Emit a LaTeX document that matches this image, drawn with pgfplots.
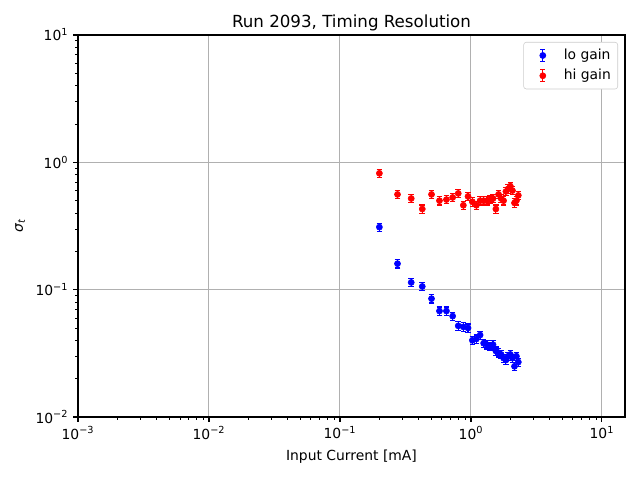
\documentclass[border=0pt]{standalone}
\usepackage{pgfplots}
\usepackage{pgfplotstable}
\pgfplotsset{compat=1.18}
\usepackage{fontspec}
\setmainfont{DejaVu Sans}
\newcommand\logtick{\pgfmathtruncatemacro\myexp{round(\tick)}\pgfmathtruncatemacro\myexpa{abs(\myexp)}10\textsuperscript{\ifnum\myexp<0 −\fi\myexpa}}
\pgfplotstableread{
x y
0.2 0.31
0.275 0.16
0.35 0.114
0.425 0.106
0.5 0.085
0.575 0.068
0.65 0.068
0.725 0.062
0.8 0.052
0.875 0.051
0.95 0.050
1.025 0.040
1.1 0.041
1.175 0.044
1.25 0.038
1.325 0.037
1.4 0.036
1.475 0.037
1.55 0.033
1.625 0.032
1.7 0.031
1.775 0.029
1.85 0.028
1.925 0.030
2.0 0.031
2.075 0.029
2.15 0.025
2.225 0.030
2.3 0.027
}\lodata
\pgfplotstableread{
x y
0.2 0.82
0.275 0.56
0.35 0.52
0.425 0.43
0.5 0.56
0.575 0.50
0.65 0.51
0.725 0.53
0.8 0.57
0.875 0.46
0.95 0.54
1.025 0.49
1.1 0.46
1.175 0.50
1.25 0.50
1.325 0.50
1.4 0.51
1.475 0.52
1.55 0.43
1.625 0.56
1.7 0.52
1.775 0.50
1.85 0.59
1.925 0.62
2.0 0.65
2.075 0.60
2.15 0.48
2.225 0.50
2.3 0.55
}\hidata
\begin{document}
\begin{tikzpicture}
\path[use as bounding box] (-56.16pt,-45.36pt) rectangle (404.64pt,300.24pt);
\begin{axis}[
  at={(0,0)}, anchor=south west,
  scale only axis, width=393.84pt, height=275.04pt,
  xmode=log, ymode=log, log basis x=10, log basis y=10,
  xmin=1e-3, xmax=15, ymin=1e-2, ymax=10,
  xticklabel={\logtick}, yticklabel={\logtick},
  tick label style={font=\fontsize{10}{12}\selectfont},
  tick pos=left, tick align=outside,
  major tick length=3.5pt, minor tick length=2pt,
  every tick/.style={black, line width=0.8pt},
  every minor tick/.style={black, line width=0.6pt},
  axis line style={line width=0.8pt},
  grid=major, major grid style={color=black!31, line width=0.7pt},
  title={Run 2093, Timing Resolution},
  title style={font=\fontsize{12}{14}\selectfont, at={(axis description cs:0.5,1)}, anchor=south, yshift=-6.3pt},
  xlabel={Input Current [mA]},
  xlabel style={font=\fontsize{10}{12}\selectfont, at={(axis description cs:0.5,-0.105)}, anchor=center},
  ylabel={\textit{σ}\textsubscript{\textit{t}}},
  ylabel style={font=\fontsize{10}{12}\selectfont, at={(axis description cs:-0.106,0.5)}, anchor=center},
  legend style={at={(axis description cs:1,1)}, anchor=north east, xshift=-5pt, yshift=-5pt,
    draw=black!20, rounded corners=2pt, font=\fontsize{10}{12}\selectfont,
    inner xsep=3pt, inner ysep=3pt, row sep=1.5pt},
  legend cell align=left,
]
\addplot[blue, only marks, mark=*, mark size=2.2pt, mark options={blue, draw=blue, fill=blue},
  legend image code/.code={\path[draw=none, fill=none] (0cm,0cm) rectangle (0.84cm,0cm); \draw[blue, line width=0.8pt] (0.38cm,-0.15cm)--(0.38cm,0.15cm) (0.32cm,-0.15cm)--(0.44cm,-0.15cm) (0.32cm,0.15cm)--(0.44cm,0.15cm); \fill[blue] (0.38cm,0cm) circle (2.2pt);},
  error bars/.cd, y dir=both, y explicit relative,
  error bar style={blue, line width=0.8pt},
  error mark options={rotate=90, blue, mark size=2pt, line width=0.8pt},
  ] table[x=x, y=y, y error expr=0.075] {\lodata};
\addlegendentry{lo gain}
\addplot[red, only marks, mark=*, mark size=2.2pt, mark options={red, draw=red, fill=red},
  legend image code/.code={\path[draw=none, fill=none] (0cm,0cm) rectangle (0.84cm,0cm); \draw[red, line width=0.8pt] (0.38cm,-0.15cm)--(0.38cm,0.15cm) (0.32cm,-0.15cm)--(0.44cm,-0.15cm) (0.32cm,0.15cm)--(0.44cm,0.15cm); \fill[red] (0.38cm,0cm) circle (2.2pt);},
  error bars/.cd, y dir=both, y explicit relative,
  error bar style={red, line width=0.8pt},
  error mark options={rotate=90, red, mark size=2pt, line width=0.8pt},
  ] table[x=x, y=y, y error expr=0.075] {\hidata};
\addlegendentry{hi gain}
\end{axis}
\end{tikzpicture}
\end{document}
